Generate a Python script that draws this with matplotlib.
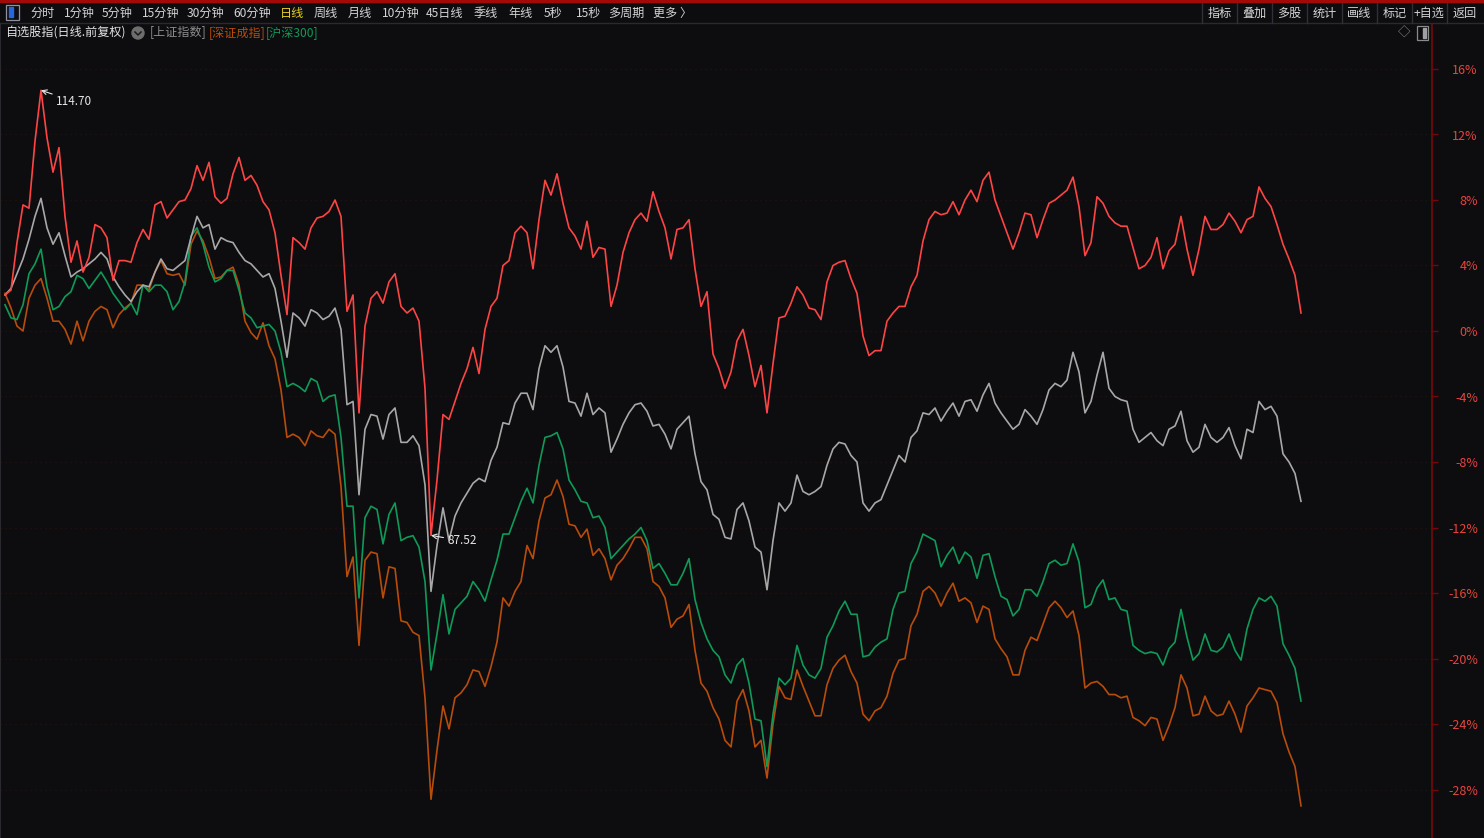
import numpy as np
import matplotlib
matplotlib.use("Agg")
import matplotlib.pyplot as plt
from matplotlib.patches import Rectangle, Ellipse
from matplotlib.lines import Line2D

plt.rcParams['font.family'] = ['Noto Sans CJK SC', 'DejaVu Sans']

W, H = 1484, 838

# % change since start, one value per sampled trading day
zixuan = [
    2.2, 2.5, 5.4, 7.7, 7.5, 11.6, 14.7, 11.8, 9.7, 11.2,
    7.0, 4.2, 5.5, 3.6, 4.5, 6.5, 6.3, 5.7, 3.1, 4.3,
    4.3, 4.2, 5.4, 6.2, 5.6, 7.7, 7.9, 6.9, 7.4, 7.9,
    8.0, 8.7, 10.1, 9.2, 10.3, 8.2, 7.8, 8.1, 9.6, 10.6,
    9.2, 9.5, 8.9, 7.9, 7.4, 6.0, 3.4, 1.0, 5.7, 5.4,
    5.0, 6.3, 6.9, 7.0, 7.3, 8.0, 7.0, 1.2, 2.2, -5.0,
    0.3, 2.0, 2.4, 1.7, 3.0, 3.5, 1.5, 1.1, 1.4, 0.6,
    -3.5, -12.48, -9.1, -5.1, -5.4, -4.3, -3.2, -2.3, -1.0, -2.6,
    0.1, 1.5, 2.0, 4.0, 4.3, 6.0, 6.4, 6.0, 3.8, 6.8,
    9.2, 8.3, 9.6, 7.8, 6.3, 5.8, 5.0, 6.7, 4.5, 5.1,
    5.0, 1.5, 2.8, 4.8, 6.0, 6.8, 7.2, 6.7, 8.5, 7.3,
    6.3, 4.4, 6.2, 6.3, 6.8, 3.8, 1.5, 2.4, -1.4, -2.3,
    -3.5, -2.5, -0.6, 0.1, -1.5, -3.4, -2.1, -5.0, -2.0, 0.8,
    0.9, 1.7, 2.7, 2.2, 1.4, 1.3, 0.7, 3.0, 4.0, 4.2,
    4.3, 3.2, 2.3, -0.3, -1.5, -1.2, -1.2, 0.6, 1.1, 1.5,
    1.5, 2.7, 3.4, 5.5, 6.8, 7.3, 7.1, 7.2, 7.9, 7.1,
    8.0, 8.6, 7.9, 9.2, 9.7, 8.0, 7.0, 6.0, 5.0, 6.0,
    7.2, 7.1, 5.7, 6.8, 7.8, 8.0, 8.3, 8.6, 9.4, 7.6,
    4.6, 5.4, 8.2, 7.8, 7.0, 6.6, 6.4, 6.4, 5.1, 3.8,
    4.0, 4.5, 5.7, 3.8, 4.9, 5.3, 7.0, 5.0, 3.4, 5.0,
    7.0, 6.2, 6.2, 6.5, 7.2, 6.7, 6.0, 6.8, 7.0, 8.8,
    8.1, 7.6, 6.5, 5.3, 4.4, 3.4, 1.1,
]

shangzheng = [
    2.2, 2.6, 3.5, 4.4, 5.6, 7.0, 8.1, 6.3, 5.3, 6.0,
    4.6, 3.3, 3.6, 3.8, 4.1, 4.4, 4.8, 4.4, 3.3, 2.7,
    2.2, 1.8, 2.4, 2.8, 2.7, 3.6, 4.4, 3.8, 3.7, 4.0,
    4.3, 5.7, 7.0, 6.3, 6.5, 5.0, 5.7, 5.5, 5.4, 4.8,
    4.3, 4.1, 3.7, 3.3, 3.5, 2.6, 0.6, -1.6, 1.1, 0.8,
    0.3, 1.3, 1.1, 0.7, 0.9, 1.4, 0.1, -4.5, -4.3, -10.0,
    -6.0, -5.1, -5.2, -6.6, -5.1, -4.7, -6.8, -6.8, -6.4, -7.0,
    -9.4, -15.9, -13.1, -10.8, -12.8, -11.3, -10.5, -9.9, -9.3, -9.0,
    -9.2, -7.9, -7.1, -5.6, -5.7, -4.4, -3.8, -3.8, -4.8, -2.3,
    -0.9, -1.3, -0.9, -2.2, -4.3, -4.4, -5.2, -3.8, -5.1, -4.7,
    -5.0, -7.4, -6.6, -5.7, -5.0, -4.5, -4.4, -4.9, -5.8, -5.7,
    -6.3, -7.2, -6.0, -5.6, -5.2, -7.5, -9.2, -9.7, -11.2, -11.5,
    -12.6, -12.7, -10.9, -10.5, -11.6, -13.2, -13.5, -15.8, -12.8, -10.5,
    -11.0, -10.5, -8.8, -9.8, -10.0, -9.8, -9.5, -8.2, -7.2, -6.8,
    -6.9, -7.6, -8.0, -10.5, -11.0, -10.5, -10.3, -9.4, -8.5, -7.6,
    -8.0, -6.5, -6.1, -5.0, -5.1, -4.7, -5.5, -4.9, -4.4, -5.2,
    -4.3, -4.2, -4.9, -3.9, -3.2, -4.4, -5.0, -5.5, -6.0, -5.7,
    -4.8, -5.2, -5.7, -4.8, -3.6, -3.2, -3.4, -3.0, -1.3, -2.5,
    -5.0, -4.3, -2.7, -1.3, -3.5, -4.0, -4.2, -4.3, -6.0, -6.8,
    -6.5, -6.2, -6.7, -7.0, -6.0, -5.8, -4.9, -6.7, -7.4, -7.1,
    -5.7, -6.5, -6.8, -6.5, -5.9, -7.0, -7.8, -6.0, -6.2, -4.3,
    -4.8, -4.6, -5.2, -7.5, -8.0, -8.7, -10.4,
]

shenzheng = [
    2.3, 1.4, 0.3, 0.0, 2.0, 2.8, 3.2, 2.0, 0.6, 0.6,
    0.1, -0.8, 0.6, -0.6, 0.6, 1.2, 1.5, 1.3, 0.2, 1.0,
    1.4, 1.7, 2.8, 2.8, 2.5, 3.6, 4.3, 3.5, 3.4, 3.5,
    2.8, 5.3, 6.1, 5.5, 4.5, 3.2, 3.3, 3.7, 3.9, 2.8,
    0.6, -0.1, -0.5, 0.5, -0.9, -1.7, -3.6, -6.5, -6.3, -6.5,
    -7.0, -6.1, -6.4, -6.5, -6.0, -6.3, -9.5, -15.0, -13.8, -19.2,
    -14.0, -13.5, -13.6, -16.3, -14.4, -14.5, -17.7, -17.8, -18.4, -18.6,
    -22.4, -28.6, -25.6, -22.9, -24.3, -22.4, -22.1, -21.6, -20.7, -20.8,
    -21.7, -20.5, -19.0, -16.3, -16.8, -15.9, -15.3, -13.1, -13.9, -11.6,
    -10.2, -10.0, -9.1, -10.1, -11.8, -11.9, -12.6, -12.1, -13.7, -13.3,
    -13.9, -15.2, -14.3, -13.9, -13.3, -12.6, -12.6, -13.3, -15.3, -15.6,
    -16.3, -18.1, -17.6, -17.4, -16.7, -19.5, -21.5, -22.0, -23.0, -23.7,
    -25.0, -25.4, -22.6, -21.9, -23.2, -25.4, -25.0, -27.3, -24.0, -21.7,
    -22.4, -22.5, -20.7, -21.7, -22.6, -23.5, -23.5, -21.6, -20.6, -20.1,
    -19.8, -20.8, -21.5, -23.4, -23.8, -23.2, -23.0, -22.3, -20.9, -20.1,
    -20.0, -18.0, -17.3, -15.9, -15.6, -16.0, -16.8, -16.0, -15.4, -16.5,
    -16.3, -16.6, -17.8, -16.8, -17.0, -18.8, -19.4, -19.9, -21.0, -21.0,
    -19.5, -18.7, -18.9, -17.9, -16.9, -16.5, -16.9, -17.5, -17.1, -18.6,
    -21.8, -21.5, -21.4, -21.7, -22.2, -22.2, -22.4, -22.3, -23.6, -23.8,
    -24.1, -23.6, -23.7, -25.0, -24.1, -23.0, -21.0, -21.8, -23.5, -23.4,
    -22.3, -23.2, -23.5, -23.4, -22.6, -23.4, -24.5, -22.9, -22.4, -21.8,
    -21.9, -22.0, -22.7, -24.6, -25.7, -26.6, -29.0,
]

hs300 = [
    1.6, 0.8, 0.7, 1.6, 3.5, 4.1, 5.0, 2.7, 1.3, 1.5,
    2.1, 2.4, 3.4, 3.2, 2.6, 3.1, 3.6, 3.0, 2.3, 1.8,
    1.3, 1.7, 1.0, 2.8, 2.4, 2.8, 2.8, 2.4, 1.3, 1.8,
    3.0, 5.8, 6.3, 5.3, 3.9, 3.0, 3.2, 3.7, 3.7, 2.5,
    1.1, 0.8, 0.2, 0.3, 0.4, 0.0, -1.3, -3.4, -3.2, -3.4,
    -3.7, -2.9, -3.1, -4.3, -4.0, -3.9, -6.5, -10.7, -10.7, -16.3,
    -11.4, -10.7, -10.9, -13.0, -11.2, -10.5, -12.8, -12.6, -12.5, -13.2,
    -15.3, -20.7, -18.5, -16.1, -18.5, -17.0, -16.6, -16.2, -15.3, -15.8,
    -16.5, -15.2, -14.0, -12.4, -12.4, -11.4, -10.4, -9.6, -10.5, -8.2,
    -6.5, -6.4, -6.2, -7.2, -9.1, -9.7, -10.4, -10.5, -11.4, -11.3,
    -12.0, -13.9, -13.5, -13.1, -12.7, -12.4, -12.0, -12.8, -14.5, -14.2,
    -14.8, -15.5, -15.5, -14.8, -13.9, -16.4, -17.8, -18.8, -19.5, -19.9,
    -21.0, -21.5, -20.4, -20.0, -21.5, -23.7, -23.8, -26.6, -23.4, -21.2,
    -21.6, -21.2, -19.2, -20.4, -21.0, -21.2, -20.6, -18.7, -18.0, -17.1,
    -16.5, -17.3, -17.3, -19.9, -19.8, -19.3, -19.0, -18.8, -17.0, -16.0,
    -15.9, -14.2, -13.5, -12.4, -12.6, -12.8, -14.4, -13.7, -13.2, -14.2,
    -13.5, -13.8, -15.1, -13.7, -13.6, -15.0, -16.2, -16.4, -17.4, -17.0,
    -15.8, -15.8, -16.2, -15.3, -14.2, -14.0, -14.3, -14.2, -13.0, -14.1,
    -16.9, -16.7, -15.7, -15.2, -16.4, -16.3, -17.0, -17.1, -19.2, -19.5,
    -19.7, -19.6, -19.7, -20.4, -19.4, -19.0, -17.0, -18.7, -20.1, -19.7,
    -18.5, -19.5, -19.6, -19.3, -18.5, -19.5, -20.1, -18.2, -17.0, -16.3,
    -16.5, -16.2, -16.8, -19.1, -19.8, -20.6, -22.6,
]

assert len(zixuan) == len(shangzheng) == len(shenzheng) == len(hs300)

periods = ["分时", "1分钟", "5分钟", "15分钟", "30分钟", "60分钟", "日线", "周线",
           "月线", "10分钟", "45日线", "季线", "年线", "5秒", "15秒", "多周期", "更多 〉"]
period_x = [30, 64, 102, 142, 187, 233, 280, 314, 348, 382, 426, 474, 508, 544, 576, 608, 653]
tools = ["指标", "叠加", "多股", "统计", "画线", "标记", "+自选", "返回"]
yticks = list(range(-28, 17, 4))

BG = "#0d0d10"
RED = "#ff4444"
GRAY = "#a8a8a8"
ORANGE = "#b84c0a"
GREEN = "#0f9a58"

fig = plt.figure(figsize=(W / 100, H / 100), dpi=100, facecolor=BG)


def fx(x):
    return x / W


def fy(y):
    return 1 - y / H


# main chart area
ax = fig.add_axes([0, 0, 1432 / W, (H - 24) / H])
ax.set_facecolor(BG)
x = np.arange(len(zixuan))
ax.plot(x, shenzheng, color=ORANGE, lw=1.2)
ax.plot(x, hs300, color=GREEN, lw=1.2)
ax.plot(x, shangzheng, color=GRAY, lw=1.2)
ax.plot(x, zixuan, color=RED, lw=1.2)

ax.set_xlim(-5 / 6, (1432 - 5) / 6)
ax.set_ylim((331 - 838) / 16.375, (331 - 24) / 16.375)
ax.set_xticks([])
ax.yaxis.tick_right()
ax.set_yticks(yticks)
ax.set_yticklabels([f"{v}%" for v in yticks])
ax.tick_params(axis="y", colors="#6e0a0a", labelcolor="#e8443c", length=4,
               width=1, labelsize=9, pad=29)
for t in ax.yaxis.get_major_ticks():
    t.label2.set_horizontalalignment("right")
ax.grid(axis="y", color="#2c0d0d", linestyle=(0, (1, 3)), lw=0.9)
for s in ["top", "bottom"]:
    ax.spines[s].set_visible(False)
ax.spines["right"].set_color("#6e0a0a")
ax.spines["right"].set_linewidth(1.3)
ax.spines["left"].set_color("#2a2a2e")

# max / min markers of the main line
imax = int(np.argmax(zixuan))
imin = int(np.argmin(zixuan))
arrow = dict(arrowstyle="->", color="#e6e6e6", lw=0.8, shrinkA=1, shrinkB=0)
ax.annotate(f"{100 + zixuan[imax]:.2f}", xy=(imax, zixuan[imax]), xytext=(11, -8),
            textcoords="offset points", color="#e6e6e6", fontsize=8.5,
            ha="left", va="center", arrowprops=arrow)
ax.annotate(f"{100 + zixuan[imin]:.2f}", xy=(imin, zixuan[imin]), xytext=(12, -4),
            textcoords="offset points", color="#e6e6e6", fontsize=8.5,
            ha="left", va="center", arrowprops=arrow)

# top toolbar
fig.add_artist(Rectangle((0, fy(2.5)), 1, 2.5 / H, transform=fig.transFigure,
                         color="#a00a0a", zorder=5))
fig.add_artist(Line2D([0, 1], [fy(23.5)] * 2, color="#2a2a2e", lw=1))
fig.add_artist(Rectangle((fx(6), fy(20)), 13 / W, 15 / H, transform=fig.transFigure,
                         fill=False, edgecolor="#9090a0", lw=0.9))
fig.add_artist(Rectangle((fx(8.5), fy(17.5)), 4 / W, 10 / H, transform=fig.transFigure,
                         color="#2a66d8"))
for s, px in zip(periods, period_x):
    c = "#e8d020" if s == "日线" else "#d4d4d4"
    fig.text(fx(px), fy(13), s, color=c, fontsize=8.7, ha="left", va="center")

for i, s in enumerate(tools):
    left = 1202 + 35 * i
    fig.add_artist(Line2D([fx(left)] * 2, [fy(3), fy(23)], color="#303036", lw=1))
    fig.text(fx(left + 17.5), fy(13), s, color="#d4d4d4", fontsize=8.7,
             ha="center", va="center")

# legend row
fig.text(fx(5), fy(33), "自选股指(日线.前复权)", color="#e2e2e2", fontsize=8.7,
         ha="left", va="center")
fig.add_artist(Ellipse((fx(138), fy(33)), 12 / W, 12 / H, transform=fig.transFigure,
                       color="#6e6e6e"))
fig.add_artist(Line2D([fx(135), fx(138), fx(141)], [fy(32), fy(35), fy(32)],
                      color="#1a1a1a", lw=1.1))
fig.text(fx(150), fy(33), "[上证指数]", color="#8c8c8c", fontsize=8.7, ha="left", va="center")
fig.text(fx(209), fy(33), "[深证成指]", color=ORANGE, fontsize=8.7, ha="left", va="center")
fig.text(fx(266), fy(33), "[沪深300]", color=GREEN, fontsize=8.7, ha="left", va="center")

fig.text(fx(1404), fy(33), "◇", color="#8a8a8a", fontsize=9, ha="center", va="center")
fig.add_artist(Rectangle((fx(1417), fy(40)), 11 / W, 14 / H, transform=fig.transFigure,
                         fill=False, edgecolor="#8a8a8a", lw=0.9))
fig.add_artist(Rectangle((fx(1422.5), fy(38)), 3 / W, 10 / H, transform=fig.transFigure,
                         color="#a0a0a0"))

fig.savefig("out.png", dpi=100, facecolor=BG)
